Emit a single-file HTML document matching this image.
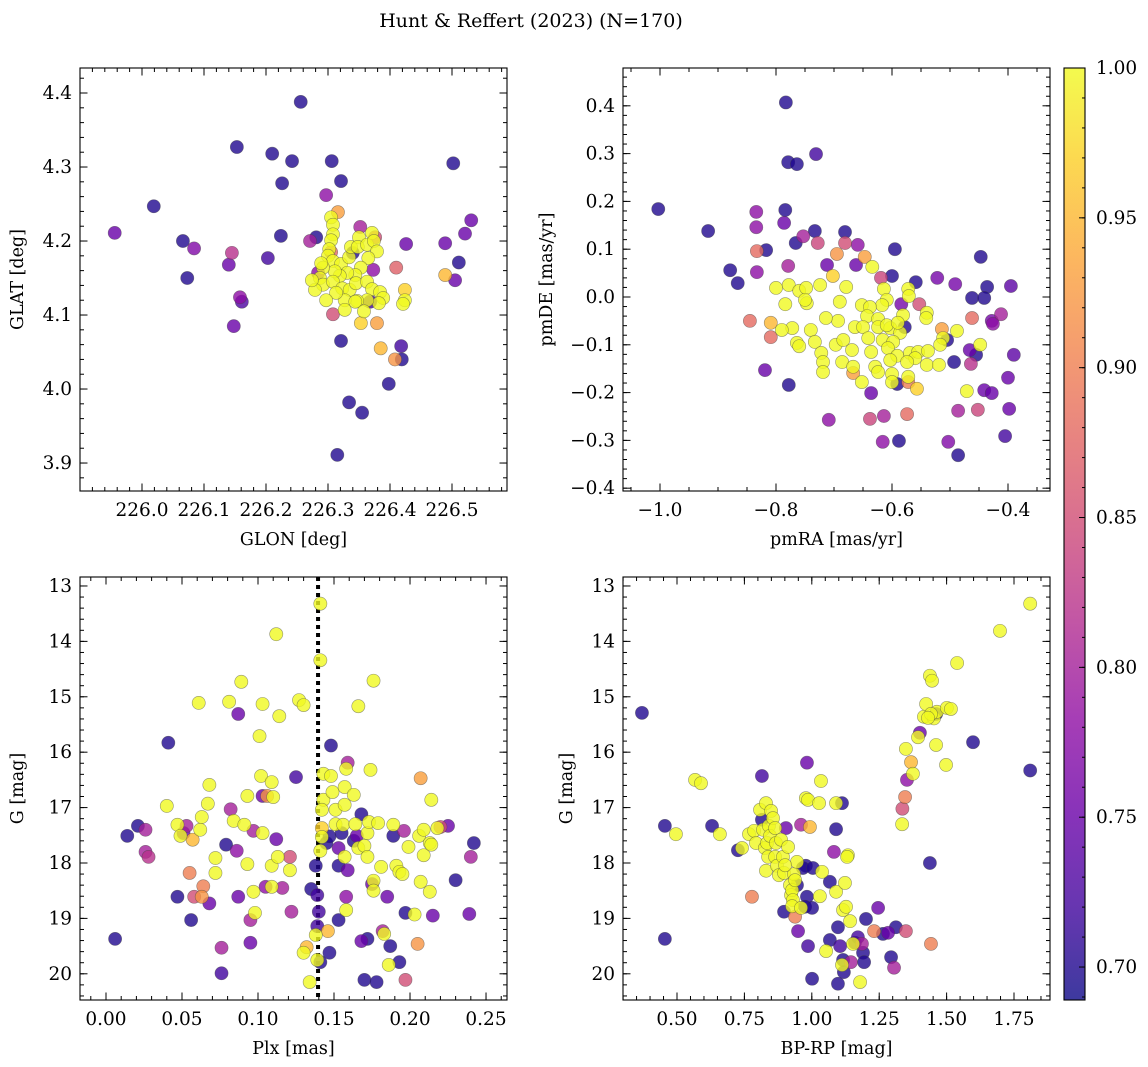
<!DOCTYPE html>
<html><head><meta charset="utf-8"><style>
html,body{margin:0;padding:0;background:#fff;}
svg{display:block;font-family:"DejaVu Serif","Liberation Serif",serif;}
</style></head><body>
<svg id="fig" width="1148" height="1067" viewBox="0 0 1148 1067" xmlns="http://www.w3.org/2000/svg">
<text x="531" y="27" text-anchor="middle" font-size="19">Hunt &amp; Reffert (2023) (N=170)</text>
</svg>
<script>
// ---- data (value rows: [x, y, membership probability]) ----
const glonGlat = [
[225.956,4.211,.75],[226.019,4.247,.7],[226.066,4.2,.7],[226.084,4.19,.77],[226.073,4.15,.7],[226.153,4.327,.7],[226.21,4.318,.7],[226.242,4.308,.7],[226.256,4.388,.7],[226.306,4.308,.7],[226.321,4.281,.7],[226.226,4.278,.7],[226.224,4.207,.7],[226.203,4.177,.72],[226.145,4.184,.82],[226.14,4.168,.75],[226.158,4.124,.78],[226.161,4.118,.73],[226.148,4.085,.75],
[226.502,4.305,.7],[226.511,4.171,.7],[226.505,4.147,.75],[226.489,4.197,.75],[226.531,4.228,.75],[226.521,4.21,.75],[226.489,4.154,.95],[226.426,4.196,.75],[226.41,4.164,.87],[226.424,4.134,.97],[226.424,4.12,1.0],[226.421,4.115,1.0],[226.418,4.058,.72],[226.419,4.04,.7],[226.408,4.04,.92],[226.385,4.055,.95],[226.398,4.007,.7],[226.355,3.968,.7],[226.315,3.911,.7],[226.334,3.982,.7],[226.321,4.065,.7],[226.353,4.089,.97],[226.308,4.101,.85],[226.297,4.262,.78],[226.316,4.239,.93],[226.281,4.205,.7],[226.271,4.2,.8],[226.284,4.157,.78],[226.376,4.205,.85],[226.373,4.161,.78],[226.34,4.184,.7],[226.352,4.219,.8],[226.368,4.118,.72],[226.379,4.089,.93],[226.305,4.185,.88],
[226.305,4.232,1.0],[226.308,4.222,1.0],[226.308,4.209,1.0],[226.305,4.201,1.0],[226.302,4.189,1.0],[226.300,4.18,1.0],[226.308,4.173,1.0],[226.321,4.169,1.0],[226.334,4.178,1.0],[226.337,4.192,1.0],[226.350,4.205,1.0],[226.348,4.192,1.0],[226.363,4.195,1.0],[226.371,4.211,1.0],[226.374,4.2,1.0],[226.379,4.186,1.0],[226.365,4.177,1.0],[226.353,4.164,1.0],[226.344,4.154,1.0],[226.331,4.157,1.0],[226.319,4.153,1.0],[226.311,4.159,1.0],[226.292,4.164,1.0],[226.287,4.15,1.0],[226.292,4.141,1.0],[226.308,4.145,1.0],[226.323,4.136,1.0],[226.335,4.134,1.0],[226.345,4.143,1.0],[226.363,4.145,1.0],[226.371,4.135,1.0],[226.384,4.131,1.0],[226.389,4.123,1.0],[226.382,4.116,1.0],[226.363,4.12,1.0],[226.347,4.119,1.0],[226.327,4.12,1.0],[226.313,4.13,1.0],[226.297,4.12,1.0],[226.279,4.134,1.0],[226.274,4.147,1.0],[226.289,4.17,1.0],[226.344,4.118,1.0],[226.358,4.105,1.0],[226.327,4.107,1.0]
];
const pmraPmde = [
[-1.003,.184,.7],[-.917,.138,.7],[-.879,.056,.7],[-.866,.029,.7],[-.783,.407,.7],[-.779,.282,.7],[-.764,.278,.7],[-.731,.299,.72],[-.784,.182,.7],[-.817,.098,.7],[-.786,.155,.75],[-.834,.178,.78],[-.834,.146,.78],[-.833,.096,.88],[-.833,.052,.78],[-.779,.065,.8],[-.766,.113,.7],[-.753,.127,.8],[-.728,.113,.84],[-.733,.138,.7],[-.712,.067,.75],[-.695,.09,.92],[-.702,.044,.97],[-.778,-.184,.7],[-.819,-.153,.75],[-.809,-.084,.88],[-.845,-.05,.88],[-.709,-.257,.78],
[-.681,.136,.7],[-.659,.109,.78],[-.681,.113,.85],[-.647,.084,.93],[-.662,.067,.75],[-.595,.1,.7],[-.447,.084,.7],[-.600,.044,.7],[-.619,.04,.84],[-.559,.031,.7],[-.522,.04,.76],[-.491,.027,.76],[-.436,.021,.7],[-.395,.023,.74],[-.462,-.002,.7],[-.441,-.002,.7],[-.412,-.036,.8],[-.428,-.05,.76],[-.426,-.056,.78],[-.462,-.044,.88],[-.553,-.015,.85],[-.584,-.015,.76],[-.578,-.063,.7],[-.514,-.067,.93],[-.505,-.09,.7],[-.466,-.111,.75],[-.455,-.121,.7],[-.390,-.121,.74],[-.493,-.136,.7],[-.464,-.140,.82],[-.667,-.159,.93],[-.591,-.182,.7],[-.572,-.178,.9],[-.557,-.192,.97],[-.400,-.169,.75],[-.636,-.201,.75],[-.441,-.195,.75],[-.428,-.201,.75],[-.638,-.255,.84],[-.614,-.249,.8],[-.574,-.245,.88],[-.486,-.238,.8],[-.452,-.236,.84],[-.398,-.234,.75],[-.616,-.303,.78],[-.588,-.301,.7],[-.503,-.303,.77],[-.405,-.291,.72],[-.486,-.331,.7],
[-.800,.019,1.0],[-.778,.025,1.0],[-.760,.013,1.0],[-.748,.019,1.0],[-.724,.025,1.0],[-.747,-.013,1.0],[-.784,-.015,1.0],[-.772,-.065,1.0],[-.790,-.069,1.0],[-.764,-.096,1.0],[-.740,-.069,1.0],[-.733,-.094,1.0],[-.722,-.117,1.0],[-.719,-.136,1.0],[-.719,-.157,1.0],[-.697,-.100,1.0],[-.693,-.050,1.0],[-.714,-.044,1.0],[-.760,-.103,1.0],[-.750,-.006,1.0],[-.809,-.054,.95],
[-.634,.063,1.0],[-.679,.021,1.0],[-.614,.017,1.0],[-.572,.017,1.0],[-.571,.002,1.0],[-.609,-.006,1.0],[-.617,-.017,1.0],[-.690,-.010,1.0],[-.652,-.017,1.0],[-.638,-.021,1.0],[-.540,-.033,1.0],[-.541,-.044,1.0],[-.581,-.038,1.0],[-.643,-.040,1.0],[-.624,-.046,1.0],[-.664,-.063,1.0],[-.650,-.063,1.0],[-.624,-.063,1.0],[-.603,-.065,1.0],[-.586,-.075,1.0],[-.609,-.059,1.0],[-.590,-.054,1.0],[-.488,-.071,1.0],[-.641,-.086,1.0],[-.616,-.090,1.0],[-.598,-.094,1.0],[-.607,-.107,1.0],[-.684,-.090,1.0],[-.669,-.111,1.0],[-.512,-.086,1.0],[-.517,-.100,1.0],[-.448,-.100,1.0],[-.636,-.115,1.0],[-.591,-.123,1.0],[-.569,-.117,1.0],[-.555,-.115,1.0],[-.538,-.113,1.0],[-.560,-.128,1.0],[-.574,-.136,1.0],[-.603,-.132,1.0],[-.540,-.142,1.0],[-.519,-.142,1.0],[-.686,-.136,1.0],[-.667,-.146,1.0],[-.629,-.146,1.0],[-.624,-.157,1.0],[-.600,-.161,1.0],[-.572,-.167,1.0],[-.600,-.178,1.0],[-.652,-.178,1.0],[-.471,-.197,1.0]
];
const plxG = [
[.006,19.37,.7],[.014,17.51,.7],[.021,17.33,.7],[.026,17.40,.8],[.026,17.80,.8],[.028,17.89,.82],[.041,15.83,.7],[.040,16.97,1.0],[.047,18.61,.7],[.047,17.31,1.0],[.049,17.51,1.0],[.051,17.46,.75],[.053,17.33,.8],[.055,18.18,.9],[.057,17.58,.95],[.056,19.03,.7],[.058,18.61,.85],[.061,15.11,1.0],[.062,17.40,1.0],[.063,17.17,1.0],[.064,18.42,.9],[.063,18.61,.92],[.067,16.93,1.0],[.068,16.59,1.0],[.068,18.73,.75],[.072,18.18,1.0],[.072,17.91,1.0],[.076,19.99,.72],[.076,19.53,.8],[.079,17.67,.7],[.081,15.09,1.0],[.082,17.03,.8],[.084,17.24,1.0],[.086,17.78,.78],[.087,15.31,.75],[.087,18.61,.75],[.089,14.73,1.0],[.091,17.31,1.0],[.093,16.79,1.0],[.093,18.02,1.0],[.095,19.44,.75],[.095,19.03,.8],[.097,17.42,.8],[.097,18.52,1.0],[.098,18.90,1.0],[.101,15.71,1.0],[.103,15.13,1.0],[.102,16.43,1.0],[.103,16.79,.75],[.103,17.46,1.0],[.105,18.43,.78],[.106,16.79,.92],[.109,16.54,1.0],[.110,16.81,1.0],[.112,17.57,.75],[.109,18.05,1.0],[.109,18.43,1.0],[.113,17.89,1.0],[.112,13.87,1.0],[.114,15.35,1.0],[.116,18.45,.8],[.121,17.89,.85],[.121,18.13,1.0],[.122,18.88,.8],[.125,16.45,.72],[.127,15.06,1.0],[.130,15.15,1.0],[.130,19.62,1.0],[.132,19.52,.95],[.135,18.47,.7],[.141,13.32,1.0],[.141,14.34,1.0],[.140,18.88,.72],[.139,19.14,.72],[.139,18.58,.72],[.138,18.05,.7],[.141,19.79,.7],[.134,20.15,1.0],[.138,19.30,1.0],[.139,19.75,1.0],[.143,16.39,1.0],[.143,16.86,1.0],[.142,17.04,1.0],[.141,17.78,1.0],[.142,17.53,1.0],[.145,17.64,.7],[.142,17.37,.97],[.146,19.23,.95],[.147,17.52,.7],[.147,19.62,.7],[.148,15.88,.7],[.148,16.43,1.0],[.149,16.72,1.0],[.151,17.30,1.0],[.151,17.04,1.0],[.153,18.05,.7],[.153,17.73,.75],[.153,19.03,.7],[.155,17.46,.7],[.156,17.31,1.0],[.157,17.89,1.0],[.157,16.95,1.0],[.157,16.63,1.0],[.158,16.30,1.0],[.158,18.85,1.0],[.158,18.61,.78],[.159,18.13,.75],[.159,16.19,.8],[.163,17.60,.7],[.163,16.77,1.0],[.164,17.30,1.0],[.165,17.51,.75],[.166,17.73,1.0],[.166,15.17,1.0],[.168,17.12,.7],[.168,19.41,.75],[.170,20.11,.7],[.170,17.69,1.0],[.172,17.46,1.0],[.172,17.89,1.0],[.172,19.37,.7],[.173,17.26,1.0],[.174,16.32,1.0],[.175,18.38,.75],[.176,18.32,1.0],[.176,18.50,1.0],[.176,14.71,1.0],[.178,20.15,.7],[.179,17.28,1.0],[.181,18.07,1.0],[.182,19.23,.8],[.183,19.28,1.0],[.185,18.61,.75],[.186,19.84,1.0],[.187,19.50,.7],[.189,17.51,.7],[.189,17.31,1.0],[.191,18.05,1.0],[.193,19.79,.7],[.193,18.16,1.0],[.195,18.20,1.0],[.197,18.90,.7],[.197,20.11,.85],[.196,17.42,.8],[.199,17.71,1.0],[.203,18.93,1.0],[.205,19.46,.92],[.206,17.51,1.0],[.209,17.40,1.0],[.207,18.34,1.0],[.209,17.86,1.0],[.213,17.64,1.0],[.213,18.52,1.0],[.214,17.67,1.0],[.214,16.86,1.0],[.218,17.37,1.0],[.220,17.35,.85],[.207,16.47,.93],[.215,18.95,.75],[.230,18.31,.7],[.240,17.89,.8],[.239,18.92,.75],[.242,17.64,.7],[.225,17.33,.75]
];
const bprpG = [
[.370,15.29,.7],[.455,19.37,.7],[.455,17.33,.7],[.496,17.48,1.0],[.567,16.5,1.0],[.589,16.56,1.0],[.630,17.33,.7],[.659,17.48,1.0],[.726,17.77,.7],[.741,17.73,1.0],[.767,17.48,1.0],[.778,18.61,.9],[.786,17.42,1.0],[.793,17.64,1.0],[.808,17.04,1.0],[.815,17.22,.7],[.815,16.43,.72],[.819,17.40,1.0],[.826,17.73,1.0],[.830,16.92,1.0],[.830,18.14,1.0],[.834,17.64,1.0],[.838,17.89,1.0],[.841,17.33,1.0],[.845,17.51,1.0],[.849,17.06,1.0],[.856,17.19,1.0],[.864,17.37,1.0],[.864,17.89,1.0],[.867,17.64,1.0],[.871,18.05,1.0],[.878,18.22,1.0],[.886,17.58,1.0],[.893,17.89,1.0],[.897,18.18,1.0],[.904,17.37,.75],[.912,17.71,1.0],[.919,18.40,1.0],[.923,18.58,1.0],[.927,18.49,1.0],[.930,18.67,1.0],[.934,18.20,1.0],[.938,18.31,1.0],[.945,17.98,1.0],[.927,18.78,1.0],[.938,18.97,.9],[.960,18.81,1.0],[.949,19.23,.75],[.901,18.04,1.0],[.897,18.88,.7],[.945,18.40,.7],[.982,18.61,.7],[.975,18.79,.7],[.978,18.05,.7],[.967,18.09,.7],[.960,17.31,.8],[.982,16.19,.75],[.978,16.83,1.0],[.986,16.86,1.0],[1.004,18.09,.7],[1.027,16.92,1.0],[1.034,16.52,1.0],[.993,17.35,.95],[1.030,18.60,1.0],[1.038,18.16,1.0],[1.001,18.81,.7],[.986,19.5,.72],[1.001,20.09,.7],[1.053,19.59,1.0],[1.067,18.34,.7],[1.067,19.39,.7],[1.082,17.80,.78],[1.090,17.39,.7],[1.090,16.92,1.0],[1.090,18.52,1.0],[1.097,19.16,.7],[1.105,19.50,.72],[1.116,19.75,.7],[1.116,18.85,1.0],[1.123,18.36,1.0],[1.127,18.79,1.0],[1.134,17.86,1.0],[1.131,17.89,1.0],[1.112,16.92,.7],[1.112,19.84,1.0],[1.119,19.97,.7],[1.142,19.05,1.0],[1.153,19.46,1.0],[1.160,19.44,.72],[1.171,19.34,.72],[1.097,20.18,.7],[1.179,20.15,1.0],[1.145,19.79,.8],[1.186,19.46,.8],[1.190,19.62,.7],[1.194,19.79,.7],[1.201,19.01,.7],[1.231,19.23,.9],[1.246,18.81,.75],[1.264,19.28,.7],[1.283,19.26,.75],[1.438,18.0,.7],[1.312,19.16,.7],[1.294,19.70,.7],[1.305,19.89,.8],[1.349,19.23,.85],[1.335,17.30,1.0],[1.346,16.81,.9],[1.353,16.50,.78],[1.368,16.18,.95],[1.375,16.39,1.0],[1.349,15.94,1.0],[1.394,15.73,1.0],[1.416,15.36,1.0],[1.424,15.13,1.0],[1.438,14.62,1.0],[1.446,14.71,1.0],[1.453,15.39,1.0],[1.464,15.27,1.0],[1.501,15.20,1.0],[1.461,15.87,1.0],[1.498,16.23,1.0],[1.461,15.31,.7],[1.442,15.31,1.0],[1.431,15.38,1.0],[1.401,15.65,.75],[1.516,15.22,1.0],[1.539,14.39,1.0],[1.598,15.82,.7],[1.81,16.33,.7],[1.698,13.81,1.0],[1.81,13.32,1.0],[1.442,19.46,.9],[1.336,17.02,.85]
];
const plxRefLine = 0.1395;
const cbarTicks = [0.70,0.75,0.80,0.85,0.90,0.95,1.00];
const cbarRange = [0.689,1.0];

// ---- plasma colormap ----
const plasmaStops = ["#0d0887","#41049d","#6a00a8","#8f0da4","#b12a90","#cc4778","#e16462","#f2844b","#fca636","#fcce25","#f0f921"];
function hex2rgb(h){return [parseInt(h.slice(1,3),16),parseInt(h.slice(3,5),16),parseInt(h.slice(5,7),16)];}
function plasma(t){t=Math.max(0,Math.min(1,t));const f=t*10,i=Math.min(9,Math.floor(f)),u=f-i;const a=hex2rgb(plasmaStops[i]),b=hex2rgb(plasmaStops[i+1]);return "rgb("+a.map((v,k)=>Math.round(v+(b[k]-v)*u)).join(",")+")";}
function norm(p){return (p-cbarRange[0])/(cbarRange[1]-cbarRange[0]);}

const NS="http://www.w3.org/2000/svg";
const svg=document.getElementById("fig");
function el(tag,attrs,parent){const e=document.createElementNS(NS,tag);for(const k in attrs)e.setAttribute(k,attrs[k]);(parent||svg).appendChild(e);return e;}
function lin(d0,d1,r0,r1){return v=>r0+(v-d0)*(r1-r0)/(d1-d0);}
function fmt(v,dec){let s=v.toFixed(dec);if(v<0&&Math.abs(v)>1e-9)s="\u2212"+s.slice(1);if(Math.abs(v)<1e-9)s=(0).toFixed(dec);return s;}

function panel(cfg){
  const g=el("g",{});
  
  
  const {x0,x1,y0,y1}=cfg.box;
  const sx=lin(cfg.xd[0],cfg.xd[1],x0,x1), sy=lin(cfg.yd[0],cfg.yd[1],y1,y0);
  const pts=cfg.data.slice().sort((a,b)=>a[2]-b[2]);
  const clip=el("clipPath",{id:cfg.name+"-clip"},g);
  el("rect",{x:x0,y:y0,width:x1-x0,height:y1-y0},clip);
  const mg=el("g",{"clip-path":"url(#"+cfg.name+"-clip)"},g);
  if(cfg.vline!==undefined){
    const l=el("line",{x1:sx(cfg.vline),x2:sx(cfg.vline),y1:y0,y2:y1,stroke:"#000","stroke-width":4,"stroke-dasharray":"4,4"},mg);
    
    
  }
  pts.forEach(d=>{
    const c=el("circle",{cx:sx(d[0]),cy:sy(d[1]),r:6.6,fill:plasma(norm(d[2])),"fill-opacity":0.8,stroke:"#444","stroke-opacity":0.55,"stroke-width":0.6},mg);
    
    
  });
  el("rect",{x:x0,y:y0,width:x1-x0,height:y1-y0,fill:"none",stroke:"#000","stroke-width":1.1},g);
  const eps=1e-9;
  function ticksX(step,len){const a=Math.ceil((cfg.xd[0]-eps)/step),b=Math.floor((cfg.xd[1]+eps)/step);for(let i=a;i<=b;i++){const X=sx(i*step);el("line",{x1:X,x2:X,y1:y1,y2:y1-len,stroke:"#000","stroke-width":1},g);el("line",{x1:X,x2:X,y1:y0,y2:y0+len,stroke:"#000","stroke-width":1},g);}}
  function ticksY(step,len){const lo=Math.min(...cfg.yd),hi=Math.max(...cfg.yd);const a=Math.ceil((lo-eps)/step),b=Math.floor((hi+eps)/step);for(let i=a;i<=b;i++){const Y=sy(i*step);el("line",{x1:x0,x2:x0+len,y1:Y,y2:Y,stroke:"#000","stroke-width":1},g);el("line",{x1:x1,x2:x1-len,y1:Y,y2:Y,stroke:"#000","stroke-width":1},g);}}
  ticksX(cfg.xminor,4);ticksY(cfg.yminor,4);ticksX(cfg.xmajor,7.5);ticksY(cfg.ymajor,7.5);
  cfg.xlabels.forEach(v=>{const t=el("text",{x:sx(v),y:y1+25,"text-anchor":"middle","font-size":18.5},g);t.textContent=fmt(v,cfg.xdec);});
  cfg.ylabels.forEach(v=>{const t=el("text",{x:x0-8,y:sy(v)+6,"text-anchor":"end","font-size":18.5},g);t.textContent=fmt(v,cfg.ydec);});
  const xt=el("text",{x:(x0+x1)/2,y:y1+54,"text-anchor":"middle","font-size":17.5},g);xt.textContent=cfg.xtitle;
  
  const ytx=cfg.ytitleX, yty=(y0+y1)/2;
  const yt=el("text",{x:ytx,y:yty,"text-anchor":"middle","font-size":17.5,transform:"rotate(-90 "+ytx+" "+yty+")"},g);yt.textContent=cfg.ytitle;
  
}
function range(a,b,s){const r=[];for(let v=a;v<=b+1e-9;v+=s)r.push(Math.round(v*1000)/1000);return r;}

panel({name:"glon-glat-panel",box:{x0:80,x1:507,y0:68,y1:491},xd:[225.9,226.5887],yd:[3.8622,4.4338],data:glonGlat,
  xmajor:0.1,xminor:0.02,ymajor:0.1,yminor:0.02,xlabels:range(226.0,226.5,0.1),ylabels:range(3.9,4.4,0.1),xdec:1,ydec:1,
  xtitle:"GLON [deg]",ytitle:"GLAT [deg]",ytitleX:23});
panel({name:"proper-motion-panel",box:{x0:623,x1:1050,y0:68,y1:491},xd:[-1.0638,-0.3276],yd:[-0.4059,0.4791],data:pmraPmde,
  xmajor:0.2,xminor:0.05,ymajor:0.1,yminor:0.02,xlabels:[-1.0,-0.8,-0.6,-0.4],ylabels:range(-0.4,0.4,0.1),xdec:1,ydec:1,
  xtitle:"pmRA [mas/yr]",ytitle:"pmDE [mas/yr]",ytitleX:552});
panel({name:"parallax-magnitude-panel",box:{x0:80,x1:507,y0:577,y1:1000},xd:[-0.0171,0.2638],yd:[20.473,12.838],data:plxG,vline:plxRefLine,
  xmajor:0.05,xminor:0.01,ymajor:1,yminor:0.2,xlabels:range(0,0.25,0.05),ylabels:range(13,20,1),xdec:2,ydec:0,
  xtitle:"Plx [mas]",ytitle:"G [mag]",ytitleX:23});
panel({name:"color-magnitude-panel",box:{x0:623,x1:1050,y0:577,y1:1000},xd:[0.2997,1.8835],yd:[20.473,12.838],data:bprpG,
  xmajor:0.25,xminor:0.05,ymajor:1,yminor:0.2,xlabels:range(0.5,1.75,0.25),ylabels:range(13,20,1),xdec:2,ydec:0,
  xtitle:"BP-RP [mag]",ytitle:"G [mag]",ytitleX:572});

(function(){
  const cx0=1064,cx1=1085,cy0=68,cy1=1000;
  const g=el("g",{});
  
  
  const defs=el("defs",{},g);
  const lg=el("linearGradient",{id:"cbgrad",x1:0,y1:1,x2:0,y2:0},defs);
  for(let i=0;i<=20;i++){el("stop",{offset:(i/20),"stop-color":plasma(i/20)},lg);}
  el("rect",{x:cx0,y:cy0,width:cx1-cx0,height:cy1-cy0,fill:"url(#cbgrad)","fill-opacity":0.8},g);
  el("rect",{x:cx0,y:cy0,width:cx1-cx0,height:cy1-cy0,fill:"none",stroke:"#000","stroke-width":1.1},g);
  const sy=lin(cbarRange[0],cbarRange[1],cy1,cy0);
  for(let v=0.69;v<=1.0001;v+=0.01){const Y=sy(v);el("line",{x1:cx1,x2:cx1-3,y1:Y,y2:Y,stroke:"#000","stroke-width":1},g);}
  cbarTicks.forEach(v=>{const Y=sy(v);el("line",{x1:cx1,x2:cx1-6,y1:Y,y2:Y,stroke:"#000","stroke-width":1},g);
    const t=el("text",{x:cx1+11,y:Y+6,"font-size":18.5},g);t.textContent=v.toFixed(2);
    });
})();
</script>
</body></html>
